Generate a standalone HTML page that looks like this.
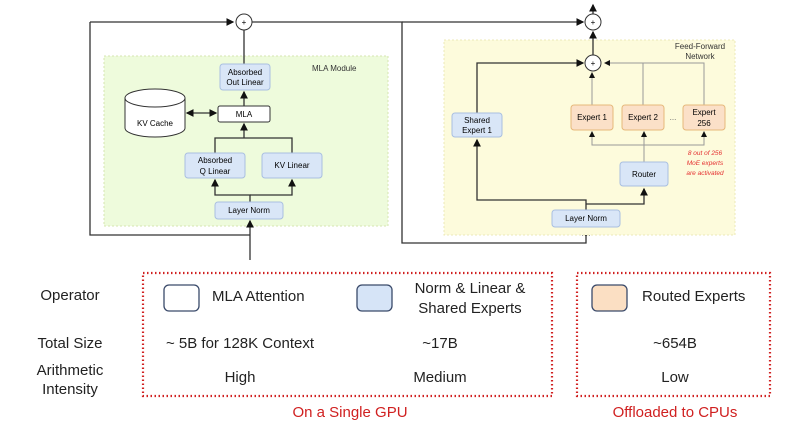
<!DOCTYPE html>
<html><head><style>
body{margin:0;background:#fff;width:800px;height:445px;overflow:hidden;font-family:"Liberation Sans",sans-serif;}
.t{position:absolute;font-size:15px;color:#222;text-align:center;}
</style></head><body>
<div style="position:relative;width:800px;height:445px;">
<svg width="800" height="445" style="position:absolute;left:0;top:0" font-family="Liberation Sans, sans-serif">
<defs><marker id="a" markerWidth="6" markerHeight="6" refX="5" refY="3" orient="auto"><path d="M0,0L6,3L0,6z" fill="#111"/></marker>
<marker id="as" markerWidth="6" markerHeight="6" refX="1" refY="3" orient="auto"><path d="M6,0L0,3L6,6z" fill="#111"/></marker></defs>
<rect x="104" y="56" width="284" height="170" fill="#eefbdc" stroke="#d6e6b0" stroke-dasharray="2,2"/>
<text x="312" y="71" font-size="8" fill="#333">MLA Module</text>
<g stroke="#333" stroke-width="1.3" fill="none">
<polyline points="90,22 233,22" marker-end="url(#a)"/>
<polyline points="90,22 90,235 250,235"/>
<line x1="250" y1="260" x2="250" y2="221" marker-end="url(#a)"/>
<line x1="244" y1="64" x2="244" y2="30"/>
<line x1="244" y1="106" x2="244" y2="92" marker-end="url(#a)"/>
<line x1="187" y1="113" x2="216" y2="113" marker-start="url(#as)" marker-end="url(#a)"/>
<polyline points="215,153 215,138 292,138 292,153"/>
<line x1="244" y1="138" x2="244" y2="124" marker-end="url(#a)"/>
<polyline points="250,202 250,195 215,195 215,180" marker-end="url(#a)"/>
<polyline points="250,195 292,195 292,180" marker-end="url(#a)"/>
<polyline points="252,22 402,22 402,243 586,243 586,229" marker-end="url(#a)"/>
</g>
<circle cx="244" cy="22" r="8" fill="#fff" stroke="#333"/><text x="244" y="25" font-size="8" text-anchor="middle">+</text>
<rect x="220" y="64" width="50" height="26" rx="3" fill="#d9e6f7" stroke="#a9bfe0"/>
<text x="245" y="75" font-size="8" text-anchor="middle">Absorbed</text><text x="245" y="85" font-size="8" text-anchor="middle">Out Linear</text>
<rect x="218" y="106" width="52" height="16" rx="2" fill="#fff" stroke="#333"/>
<text x="244" y="117" font-size="8" text-anchor="middle">MLA</text>
<path d="M125,98 L125,128 A30,9 0 0 0 185,128 L185,98" fill="#fff" stroke="#333"/>
<ellipse cx="155" cy="98" rx="30" ry="9" fill="#fff" stroke="#333"/>
<text x="155" y="126" font-size="8" text-anchor="middle">KV Cache</text>
<rect x="185" y="153" width="60" height="25" rx="3" fill="#d9e6f7" stroke="#a9bfe0"/>
<text x="215" y="163" font-size="8" text-anchor="middle">Absorbed</text><text x="215" y="174" font-size="8" text-anchor="middle">Q Linear</text>
<rect x="262" y="153" width="60" height="25" rx="3" fill="#d9e6f7" stroke="#a9bfe0"/>
<text x="292" y="168" font-size="8" text-anchor="middle">KV Linear</text>
<rect x="215" y="202" width="68" height="17" rx="3" fill="#d9e6f7" stroke="#a9bfe0"/>
<text x="249" y="213" font-size="8" text-anchor="middle">Layer Norm</text>
<rect x="444" y="40" width="291" height="195" fill="#fdfbdc" stroke="#ece8b8" stroke-dasharray="2,2"/>
<text x="700" y="49" font-size="8" text-anchor="middle" fill="#333">Feed-Forward</text>
<text x="700" y="59" font-size="8" text-anchor="middle" fill="#333">Network</text>
<g stroke="#333" stroke-width="1.3" fill="none">
<line x1="402" y1="22" x2="583" y2="22" marker-end="url(#a)"/>
<line x1="593" y1="14" x2="593" y2="5" marker-end="url(#a)"/>
<line x1="593" y1="55" x2="593" y2="32" marker-end="url(#a)"/>
<polyline points="477,113 477,63 583,63" marker-end="url(#a)"/>
<polyline points="586,210 586,200 477,200 477,140" marker-end="url(#a)"/>
<polyline points="586,204 644,204 644,189" marker-end="url(#a)"/>
</g>
<g stroke="#999" stroke-width="1" fill="none">
<line x1="592" y1="105" x2="592" y2="73" marker-end="url(#a)"/>
<polyline points="643,105 643,63 605,63" marker-end="url(#a)"/>
<polyline points="704,105 704,63 643,63"/>
<line x1="644" y1="162" x2="644" y2="145"/>
<polyline points="592,133 592,145 704,145 704,133"/>
<line x1="592" y1="145" x2="592" y2="132" marker-end="url(#a)"/>
<line x1="704" y1="145" x2="704" y2="132" marker-end="url(#a)"/>
<line x1="644" y1="145" x2="644" y2="132" marker-end="url(#a)"/>
</g>
<circle cx="593" cy="22" r="8" fill="#fff" stroke="#333"/><text x="593" y="25" font-size="8" text-anchor="middle">+</text>
<circle cx="593" cy="63" r="8" fill="#fff" stroke="#333"/><text x="593" y="66" font-size="8" text-anchor="middle">+</text>
<rect x="452" y="113" width="50" height="24" rx="3" fill="#d9e6f7" stroke="#a9bfe0"/>
<text x="477" y="123" font-size="8" text-anchor="middle">Shared</text><text x="477" y="133" font-size="8" text-anchor="middle">Expert 1</text>
<rect x="571" y="105" width="42" height="25" rx="3" fill="#fbe0c8" stroke="#e6b87a"/>
<text x="592" y="120" font-size="8" text-anchor="middle">Expert 1</text>
<rect x="622" y="105" width="42" height="25" rx="3" fill="#fbe0c8" stroke="#e6b87a"/>
<text x="643" y="120" font-size="8" text-anchor="middle">Expert 2</text>
<text x="673" y="120" font-size="8" text-anchor="middle" fill="#666">...</text>
<rect x="683" y="105" width="42" height="25" rx="3" fill="#fbe0c8" stroke="#e6b87a"/>
<text x="704" y="115" font-size="8" text-anchor="middle">Expert</text><text x="704" y="126" font-size="8" text-anchor="middle">256</text>
<rect x="620" y="162" width="48" height="24" rx="3" fill="#d9e6f7" stroke="#a9bfe0"/>
<text x="644" y="177" font-size="8" text-anchor="middle">Router</text>
<rect x="552" y="210" width="68" height="17" rx="3" fill="#d9e6f7" stroke="#a9bfe0"/>
<text x="586" y="221" font-size="8" text-anchor="middle">Layer Norm</text>
<g font-size="6.5" fill="#e53030" font-style="italic" text-anchor="middle">
<text x="705" y="155">8 out of 256</text><text x="705" y="165">MoE experts</text><text x="705" y="175">are activated</text></g>
<rect x="143" y="273" width="409" height="123" fill="none" stroke="#d02020" stroke-width="2.2" stroke-dasharray="1.5,2.5"/>
<rect x="577" y="273" width="193" height="123" fill="none" stroke="#d02020" stroke-width="2.2" stroke-dasharray="1.5,2.5"/>
<rect x="164" y="285" width="35" height="26" rx="5" fill="#fff" stroke="#3a4a6a" stroke-width="1.3"/>
<rect x="357" y="285" width="35" height="26" rx="5" fill="#d6e4f7" stroke="#3a4a6a" stroke-width="1.3"/>
<rect x="592" y="285" width="35" height="26" rx="5" fill="#fbdfc3" stroke="#3a4a6a" stroke-width="1.3"/>
</svg>
<div class="t" style="left:25px;top:287px;width:90px">Operator</div>
<div class="t" style="left:20px;top:335px;width:100px">Total Size</div>
<div class="t" style="left:20px;top:361px;width:100px;line-height:19px">Arithmetic<br>Intensity</div>
<div class="t" style="left:212px;top:288px">MLA Attention</div>
<div class="t" style="left:400px;top:279px;width:140px;line-height:20px">Norm &amp; Linear &amp;<br>Shared Experts</div>
<div class="t" style="left:642px;top:288px">Routed Experts</div>
<div class="t" style="left:145px;top:335px;width:190px">~ 5B for 128K Context</div>
<div class="t" style="left:410px;top:335px;width:60px">~17B</div>
<div class="t" style="left:640px;top:335px;width:70px">~654B</div>
<div class="t" style="left:200px;top:369px;width:80px">High</div>
<div class="t" style="left:405px;top:369px;width:70px">Medium</div>
<div class="t" style="left:640px;top:369px;width:70px">Low</div>
<div class="t" style="left:265px;top:404px;width:170px;color:#d02020">On a Single GPU</div>
<div class="t" style="left:585px;top:404px;width:180px;color:#d02020">Offloaded to CPUs</div>
</div>
</body></html>
